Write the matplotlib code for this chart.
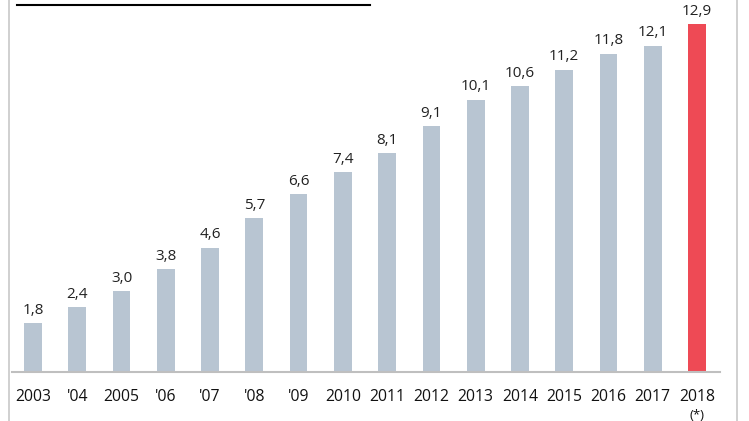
import numpy as np
import matplotlib.pyplot as plt
from matplotlib.lines import Line2D

plt.rcParams['font.family'] = ['Open Sans', 'DejaVu Sans']
plt.rcParams['font.size'] = 11

years = ['2003', "'04", '2005', "'06", "'07", "'08", "'09", '2010', '2011',
         '2012', '2013', '2014', '2015', '2016', '2017', '2018']
values = [1.8, 2.4, 3.0, 3.8, 4.6, 5.7, 6.6, 7.4, 8.1, 9.1, 10.1, 10.6,
          11.2, 11.8, 12.1, 12.9]

fig = plt.figure(figsize=[7.49, 4.21], dpi=100)
ax = fig.add_axes([12/749, 49/421, 708/749, 372/421])

x = np.arange(len(values))
colors = ['#b8c5d2'] * (len(values) - 1) + ['#ee4a55']
ax.bar(x, values, width=0.4, color=colors)

for xi, v in zip(x, values):
    ax.text(xi, v + 0.2, f'{v:.1f}'.replace('.', ','), ha='center', va='bottom',
            color='#222222', fontsize=11)

ax.set_xlim(-0.474, 15.52)
ax.set_ylim(0, 372 / 26.98)
ax.set_xticks(x)
ax.set_xticklabels(years, fontsize=11.3, color='#111111')
ax.tick_params(axis='x', length=0, pad=12)
ax.set_yticks([])
for s in ['top', 'left', 'right']:
    ax.spines[s].set_visible(False)
ax.spines['bottom'].set_color('#bfbfbf')
ax.spines['bottom'].set_linewidth(1.5)

ax.text(15, -1.6, '(*)', ha='center', va='center', fontsize=9.5, color='#111111')

# frame lines and cut-off title underline
fig.add_artist(Line2D([9/749, 9/749], [0, 1], color='#c8c8c8', lw=1.2))
fig.add_artist(Line2D([737/749, 737/749], [0, 1], color='#c8c8c8', lw=1.2))
fig.add_artist(Line2D([17/749, 370/749], [1 - 5/421, 1 - 5/421], color='black', lw=1.5))

fig.savefig('out.png', dpi=100)
